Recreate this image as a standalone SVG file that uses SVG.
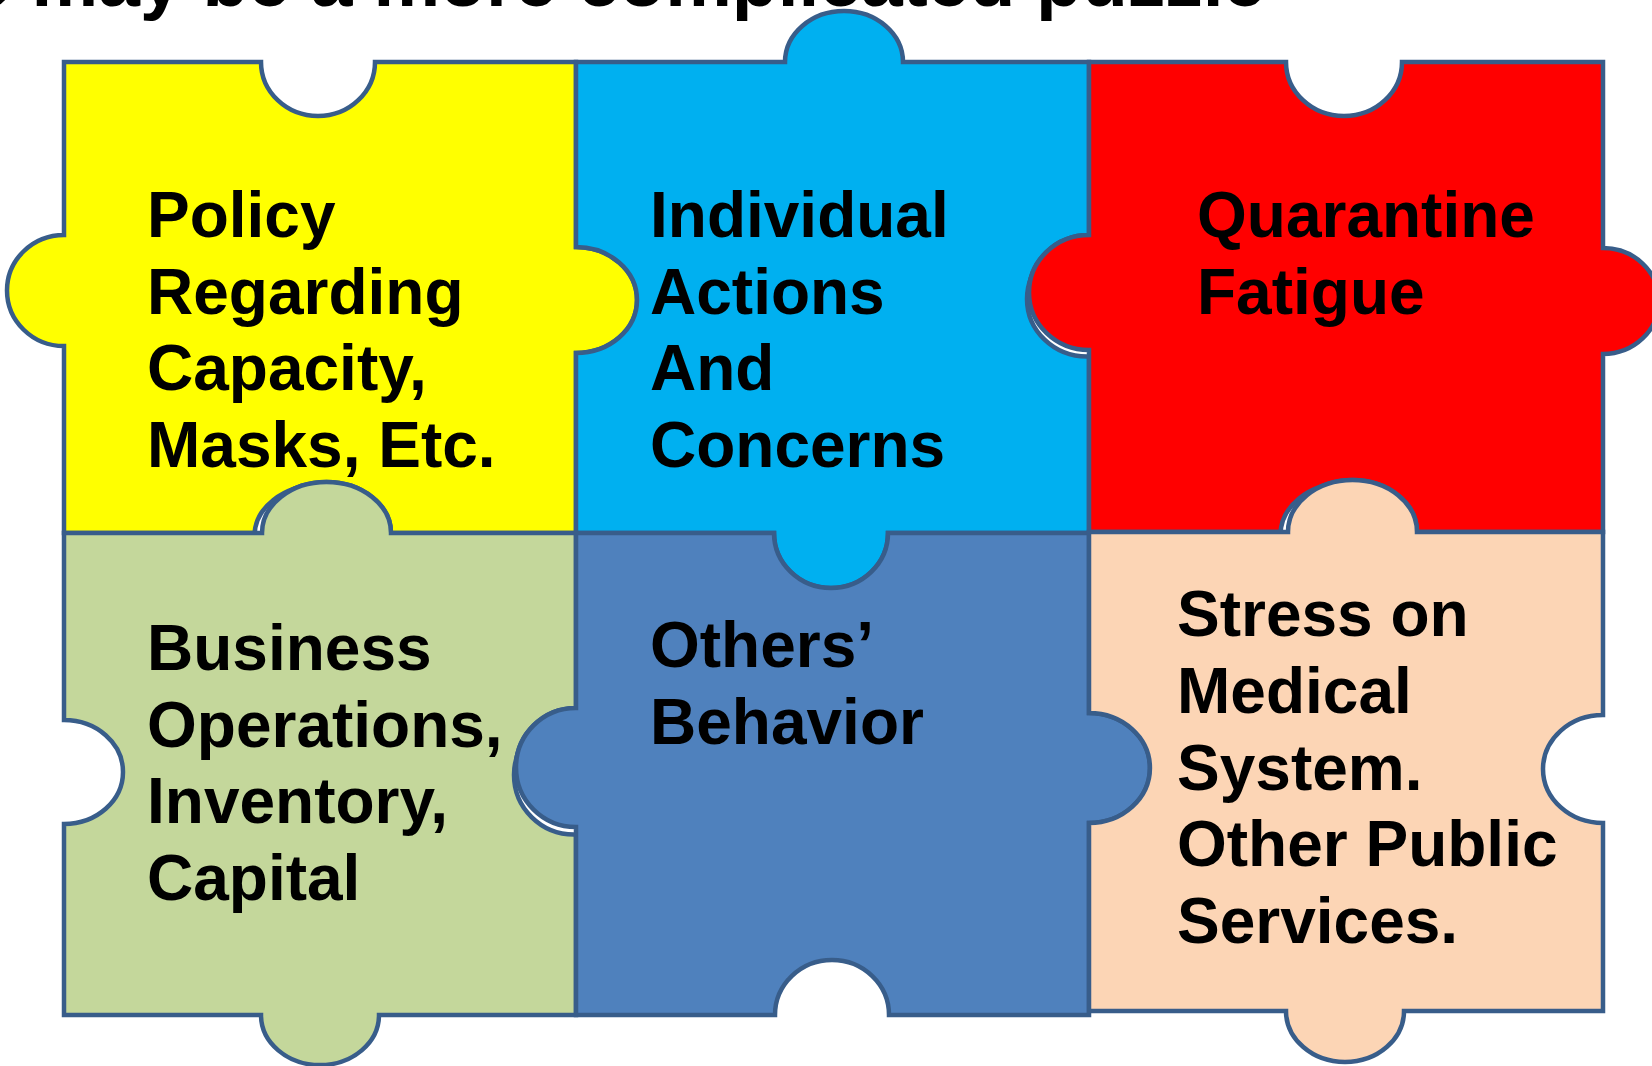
<svg xmlns="http://www.w3.org/2000/svg" width="1652" height="1066" viewBox="0 0 1652 1066">
<style>
.pc{stroke:#385D8A;stroke-width:4.5;stroke-linejoin:miter}
.sh{fill:#FFFFFF;stroke:#385D8A;stroke-width:4.5}
.t{font-family:"Liberation Sans",Arial,sans-serif;font-weight:bold;font-size:64px;fill:#000}
.title{font-family:"Liberation Sans",Arial,sans-serif;font-weight:bold;font-size:75px;fill:#000}
</style>
<rect x="0" y="0" width="1652" height="1066" fill="#FFFFFF"/>
<text class="title" x="-31" y="6">e may be a more complicated puzzle</text>

<g id="piece-policy">
<path class="pc" fill="#FFFF00" d="M64 62 H261 A57 54 0 0 0 375 62 H576 V247 A61 53 0 0 1 576 353 V533 H391 A64.5 51 0 0 0 262 533 H64 V346 A57 55.5 0 0 1 64 235 Z"/>
<text class="t" x="147" y="237">Policy</text>
<text class="t" x="147" y="314">Regarding</text>
<text class="t" x="147" y="390">Capacity,</text>
<text class="t" x="147" y="467">Masks, Etc.</text>
</g>

<g id="piece-individual">
<path class="pc" fill="#00B0F0" d="M576 62 H785 A59 51 0 0 1 903 62 H1089 V235 A60 57.5 0 0 0 1089 350 V533 H888 A57 55 0 0 1 774 533 H576 V353 A61 53 0 0 0 576 247 Z"/>
<text class="t" x="650" y="237">Individual</text>
<text class="t" x="650" y="314">Actions</text>
<text class="t" x="650" y="390">And</text>
<text class="t" x="650" y="467">Concerns</text>
</g>

<g id="piece-quarantine">
<ellipse class="sh" cx="1087" cy="299" rx="60" ry="57.5"/>
<path class="pc" fill="#FF0000" d="M1089 62 H1286 A58 54 0 0 0 1402 62 H1603 V248 A56 53 0 0 1 1603 354 V532 H1417 A64.5 52 0 0 0 1288 532 H1089 V350 A60 57.5 0 0 1 1089 235 Z"/>
<text class="t" x="1197" y="237">Quarantine</text>
<text class="t" x="1197" y="314">Fatigue</text>
</g>

<g id="piece-business">
<ellipse class="sh" cx="319" cy="536" rx="64.5" ry="51"/>
<path class="pc" fill="#C4D79B" d="M64 533 H262 A64.5 51 0 0 1 391 533 H576 V708 A60 59.5 0 0 0 576 827 V1015 H379 A59 50 0 0 1 261 1015 H64 V824 A59 52 0 0 0 64 720 Z"/>
<text class="t" x="147" y="670">Business</text>
<text class="t" x="147" y="747">Operations,</text>
<text class="t" x="147" y="823">Inventory,</text>
<text class="t" x="147" y="900">Capital</text>
</g>

<g id="piece-others">
<ellipse class="sh" cx="574" cy="775" rx="60" ry="59.5"/>
<path class="pc" fill="#4F81BD" d="M576 533 H774 A57 55 0 0 0 888 533 H1089 V713 A61 55 0 0 1 1089 823 V1015 H889 A57 55 0 0 0 775 1015 H576 V827 A60 59.5 0 0 1 576 708 Z"/>
<text class="t" x="650" y="667">Others’</text>
<text class="t" x="650" y="744">Behavior</text>
</g>

<g id="piece-stress">
<ellipse class="sh" cx="1345" cy="535" rx="64.5" ry="52"/>
<path class="pc" fill="#FCD5B5" d="M1089 532 H1288 A64.5 52 0 0 1 1417 532 H1603 V715 A60 54 0 0 0 1603 823 V1011 H1404 A59 51 0 0 1 1286 1011 H1089 V823 A61 55 0 0 0 1089 713 Z"/>
<text class="t" x="1177" y="636">Stress on</text>
<text class="t" x="1177" y="713">Medical</text>
<text class="t" x="1177" y="790">System.</text>
<text class="t" x="1177" y="866">Other Public</text>
<text class="t" x="1177" y="943">Services.</text>
</g>

<g id="connectors"></g>
</svg>
